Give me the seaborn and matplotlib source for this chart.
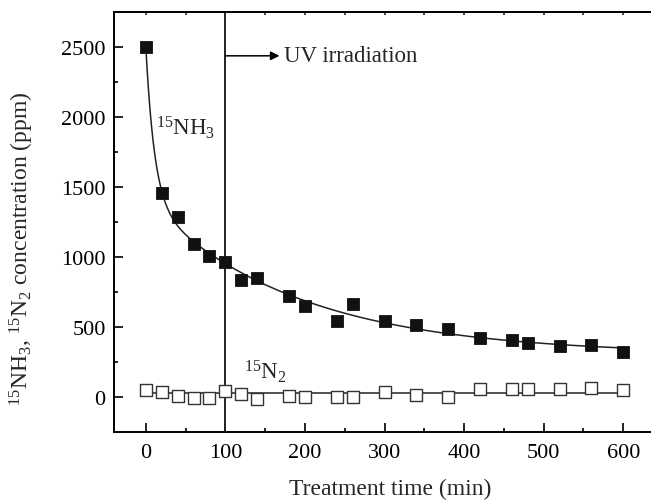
import numpy as np
import seaborn as sns
import matplotlib
matplotlib.use('Agg')
import matplotlib.pyplot as plt
import pandas as pd

# values
time_min = [0, 20, 40, 60, 80, 100, 120, 140, 180, 200, 240,
            260, 300, 340, 380, 420, 460, 480, 520, 560, 600]
nh3_ppm = [2500, 1460, 1283, 1092, 1006, 965, 838, 852, 720, 652, 543,
           664, 542, 512, 486, 420, 406, 385, 364, 371, 322]
n2_ppm = [50, 38, 10, -5, -5, 43, 19, -14, 10, 2, 2,
          2, 38, 12, 2, 60, 60, 55, 55, 67, 48]

x_ticks = [0, 100, 200, 300, 400, 500, 600]
y_ticks = [0, 500, 1000, 1500, 2000, 2500]


def biexp_fit(x, y):
    # brute force over the two time constants, amplitudes by least squares
    best = None
    for t1 in np.arange(2, 60, 1.0):
        for t2 in np.arange(60, 1500, 10.0):
            A = np.column_stack([np.exp(-x / t1), np.exp(-x / t2), np.ones_like(x)])
            coef = np.linalg.lstsq(A, y, rcond=None)[0]
            sse = np.sum((A @ coef - y) ** 2)
            if best is None or sse < best[0]:
                best = (sse, t1, t2, coef)
    _, t1, t2, coef = best
    return lambda t: coef[0] * np.exp(-t / t1) + coef[1] * np.exp(-t / t2) + coef[2]


def main():
    sns.set_style('ticks')
    plt.rcParams['font.family'] = ['Liberation Serif', 'DejaVu Serif']
    plt.rcParams['mathtext.fontset'] = 'custom'
    plt.rcParams['mathtext.rm'] = 'Liberation Serif'
    plt.rcParams['mathtext.it'] = 'Liberation Serif:italic'

    df = pd.DataFrame({'time': time_min, 'nh3': nh3_ppm, 'n2': n2_ppm})
    x = df['time'].to_numpy(float)

    # fitted curves (N2 is basically flat -> constant level)
    t_fit = np.linspace(0, 600, 400)
    nh3_curve = biexp_fit(x, df['nh3'].to_numpy(float))(t_fit)
    n2_level = np.polyfit(x, df['n2'].to_numpy(float), 0)
    fit = pd.DataFrame({'time': t_fit, 'nh3': nh3_curve,
                        'n2': np.polyval(n2_level, t_fit)})

    fig = plt.figure(figsize=(6.51, 5.02), dpi=100)
    ax = fig.add_axes([114 / 651, 1 - 433 / 502, 557 / 651, 420 / 502])

    sns.lineplot(data=fit, x='time', y='nh3', color='#222222', lw=1.1, ax=ax)
    sns.lineplot(data=fit, x='time', y='n2', color='#222222', lw=1.1, ax=ax)
    sns.scatterplot(data=df, x='time', y='nh3', marker='s', s=76,
                    color='#111111', edgecolor='#111111', linewidth=0.6,
                    ax=ax, zorder=3)
    sns.scatterplot(data=df, x='time', y='n2', marker='s', s=66,
                    facecolor='white', edgecolor='#333333', linewidth=1.0,
                    ax=ax, zorder=3)

    # UV switched on at 100 min
    ax.axvline(100, color='#222222', lw=1.4)
    ax.annotate('', xy=(168, 2437), xytext=(100, 2437),
                arrowprops=dict(arrowstyle='-|>', color='black', lw=1.1,
                                mutation_scale=13, shrinkA=0, shrinkB=0))
    ax.text(174, 2437, 'UV irradiation', fontsize=16.5, va='center', ha='left')
    ax.text(13, 1930, '$^{15}$NH$_3$', fontsize=16.5, va='center', ha='left')
    ax.text(123, 186, '$^{15}$N$_2$', fontsize=16.5, va='center', ha='left')

    ax.set_xlim(-40, 660)
    ax.set_ylim(-250, 2750)
    ax.set_xticks(x_ticks)
    ax.set_yticks(y_ticks)
    ax.set_xticks(np.arange(50, 650, 100), minor=True)
    ax.set_yticks(np.arange(250, 2750, 500), minor=True)
    ax.tick_params(which='both', direction='in', labelsize=16, width=1.2,
                   color='black', labelcolor='black', top=False, right=False)
    ax.tick_params(which='major', length=6.5)
    ax.tick_params(which='minor', length=3)
    ax.tick_params(axis='x', which='both', pad=8)
    ax.tick_params(axis='y', which='both', pad=6)
    ax.spines['right'].set_visible(False)
    for side in ['left', 'bottom', 'top']:
        ax.spines[side].set_linewidth(1.4)
        ax.spines[side].set_color('black')

    # tiny tick marks along the top frame
    top = ax.secondary_xaxis('top')
    top.set_xticks(np.arange(0, 650, 50))
    top.tick_params(direction='in', length=1.8, width=1.2, labeltop=False)
    top.spines['top'].set_linewidth(1.4)

    ax.set_xlabel('Treatment time (min)', fontsize=17)
    ax.set_ylabel('$^{15}$NH$_3$, $^{15}$N$_2$ concentration (ppm)', fontsize=17)
    ax.xaxis.set_label_coords(0.495, -0.11)
    ax.yaxis.set_label_coords(-0.14, 0.44)

    fig.savefig('out.png', dpi=100)


if __name__ == '__main__':
    main()
